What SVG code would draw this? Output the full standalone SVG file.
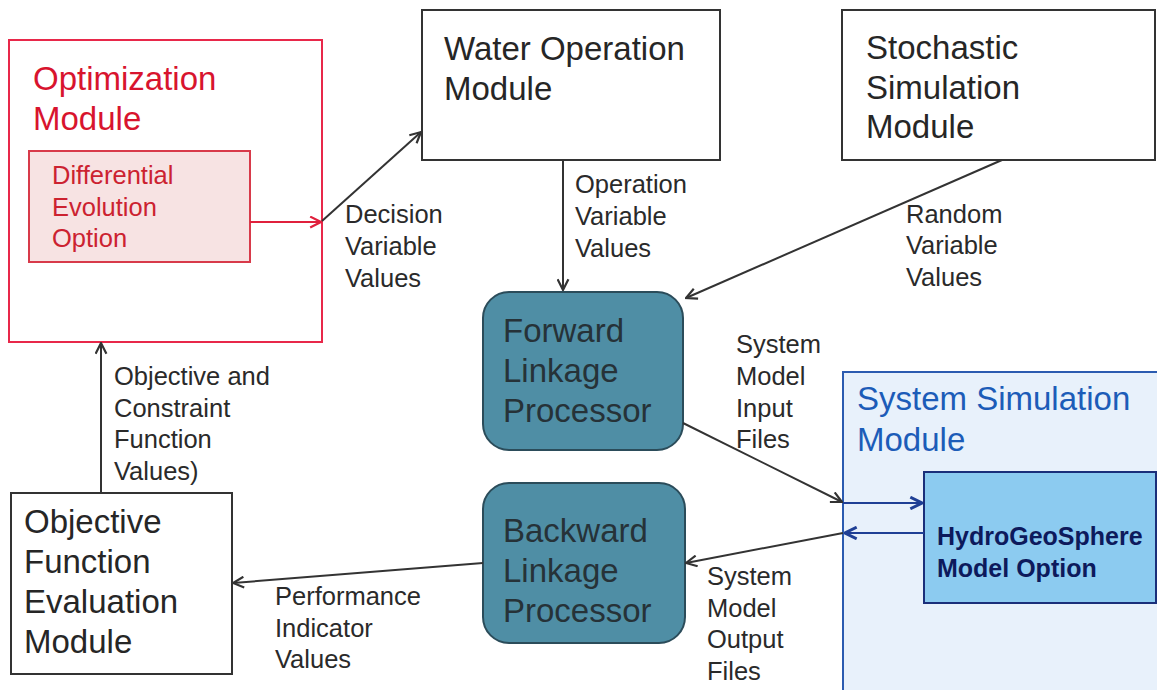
<svg xmlns="http://www.w3.org/2000/svg" width="1157" height="690" viewBox="0 0 1157 690">
<style>
text{font-family:"Liberation Sans",Arial,sans-serif;}
.title{font-size:33px;fill:#262626;}
.lbl{font-size:25.5px;fill:#2a2a2a;}
.box{fill:#ffffff;stroke:#333333;stroke-width:2;}
.proc{fill:#4f8ea5;stroke:#2b4c5a;stroke-width:2;}
.ptxt{font-size:33px;fill:#263238;}
.ln{fill:none;stroke:#333333;stroke-width:2;}
.lnr{fill:none;stroke:#e0203c;stroke-width:2;}
.lnb{fill:none;stroke:#1f3f95;stroke-width:2;}
</style>
<defs>
<marker id="ag" viewBox="0 0 12 12" refX="11" refY="6" markerWidth="13" markerHeight="13" markerUnits="userSpaceOnUse" orient="auto"><path d="M1,1 L11,6 L1,11" fill="none" stroke="#333333" stroke-width="2"/></marker>
<marker id="ar" viewBox="0 0 12 12" refX="11" refY="6" markerWidth="13" markerHeight="13" markerUnits="userSpaceOnUse" orient="auto"><path d="M1,1 L11,6 L1,11" fill="none" stroke="#e0203c" stroke-width="2"/></marker>
<marker id="ab" viewBox="0 0 12 12" refX="11" refY="6" markerWidth="14" markerHeight="14" markerUnits="userSpaceOnUse" orient="auto"><path d="M1,1 L11,6 L1,11" fill="none" stroke="#1f3f95" stroke-width="2.5"/></marker>
</defs>
<rect width="1157" height="690" fill="#ffffff"/>

<g id="optimization">
<rect x="9" y="40" width="313" height="302" fill="#ffffff" stroke="#e8284a" stroke-width="2"/>
<text x="33" y="90" style="font-size:33px;fill:#d8142e">Optimization</text>
<text x="33" y="130" style="font-size:33px;fill:#d8142e">Module</text>
</g>
<g id="differential">
<rect x="29" y="151" width="221" height="111" fill="#f7e3e3" stroke="#d83a4a" stroke-width="2"/>
<text x="52" y="184" style="font-size:25.5px;fill:#cc2230">Differential</text>
<text x="52" y="216" style="font-size:25.5px;fill:#cc2230">Evolution</text>
<text x="52" y="247" style="font-size:25.5px;fill:#cc2230">Option</text>
</g>
<g id="water">
<rect class="box" x="422" y="10" width="298" height="150"/>
<text class="title" x="444" y="60">Water Operation</text>
<text class="title" x="444" y="100">Module</text>
</g>
<g id="stochastic">
<rect class="box" x="842" y="10" width="313" height="150"/>
<text class="title" x="866" y="59">Stochastic</text>
<text class="title" x="866" y="99">Simulation</text>
<text class="title" x="866" y="138">Module</text>
</g>
<g id="forward">
<rect class="proc" x="483" y="292" width="200" height="158" rx="26" ry="26"/>
<text class="ptxt" x="503" y="342">Forward</text>
<text class="ptxt" x="503" y="382">Linkage</text>
<text class="ptxt" x="503" y="422">Processor</text>
</g>
<g id="backward">
<rect class="proc" x="483" y="483" width="202" height="160" rx="26" ry="26"/>
<text class="ptxt" x="503" y="542">Backward</text>
<text class="ptxt" x="503" y="582">Linkage</text>
<text class="ptxt" x="503" y="622">Processor</text>
</g>
<g id="system">
<rect x="843" y="372" width="320" height="330" fill="#e8f1fb" stroke="#2b5bb0" stroke-width="2"/>
<text x="857" y="410" style="font-size:33px;fill:#1c5cb8">System Simulation</text>
<text x="857" y="451" style="font-size:33px;fill:#1c5cb8">Module</text>
</g>
<g id="hydro">
<rect x="924" y="472" width="232" height="131" fill="#8ccbf0" stroke="#1a2f7a" stroke-width="2"/>
<text x="937" y="545" style="font-size:25px;font-weight:bold;fill:#0d1a5c">HydroGeoSphere</text>
<text x="937" y="577" style="font-size:25px;font-weight:bold;fill:#0d1a5c">Model Option</text>
</g>
<g id="objective">
<rect class="box" x="11" y="493" width="221" height="181"/>
<text class="title" x="24" y="533">Objective</text>
<text class="title" x="24" y="573">Function</text>
<text class="title" x="24" y="613">Evaluation</text>
<text class="title" x="24" y="653">Module</text>
</g>

<g id="connectors">
<line class="lnr" x1="250" y1="222" x2="321" y2="222" marker-end="url(#ar)"/>
<line class="ln" x1="322" y1="221" x2="421" y2="132" marker-end="url(#ag)"/>
<line class="ln" x1="563" y1="160" x2="563" y2="290" marker-end="url(#ag)"/>
<line class="ln" x1="1002" y1="160" x2="686" y2="298" marker-end="url(#ag)"/>
<line class="ln" x1="683" y1="423" x2="842" y2="502" marker-end="url(#ag)"/>
<line class="lnb" x1="843" y1="503" x2="922" y2="503" marker-end="url(#ab)"/>
<line class="lnb" x1="924" y1="533" x2="845" y2="533" marker-end="url(#ab)"/>
<line class="ln" x1="843" y1="533" x2="686" y2="563" marker-end="url(#ag)"/>
<line class="ln" x1="483" y1="563" x2="233" y2="583" marker-end="url(#ag)"/>
<line class="ln" x1="101" y1="493" x2="101" y2="343" marker-end="url(#ag)"/>
</g>

<g id="labels">
<text class="lbl" x="345" y="223">Decision</text>
<text class="lbl" x="345" y="255">Variable</text>
<text class="lbl" x="345" y="287">Values</text>
<text class="lbl" x="575" y="193">Operation</text>
<text class="lbl" x="575" y="225">Variable</text>
<text class="lbl" x="575" y="257">Values</text>
<text class="lbl" x="906" y="223">Random</text>
<text class="lbl" x="906" y="254">Variable</text>
<text class="lbl" x="906" y="286">Values</text>
<text class="lbl" x="736" y="353">System</text>
<text class="lbl" x="736" y="385">Model</text>
<text class="lbl" x="736" y="417">Input</text>
<text class="lbl" x="736" y="448">Files</text>
<text class="lbl" x="707" y="585">System</text>
<text class="lbl" x="707" y="617">Model</text>
<text class="lbl" x="707" y="648">Output</text>
<text class="lbl" x="707" y="680">Files</text>
<text class="lbl" x="275" y="605">Performance</text>
<text class="lbl" x="275" y="637">Indicator</text>
<text class="lbl" x="275" y="668">Values</text>
<text class="lbl" x="114" y="385">Objective and</text>
<text class="lbl" x="114" y="417">Constraint</text>
<text class="lbl" x="114" y="448">Function</text>
<text class="lbl" x="114" y="480">Values)</text>
</g>
</svg>
